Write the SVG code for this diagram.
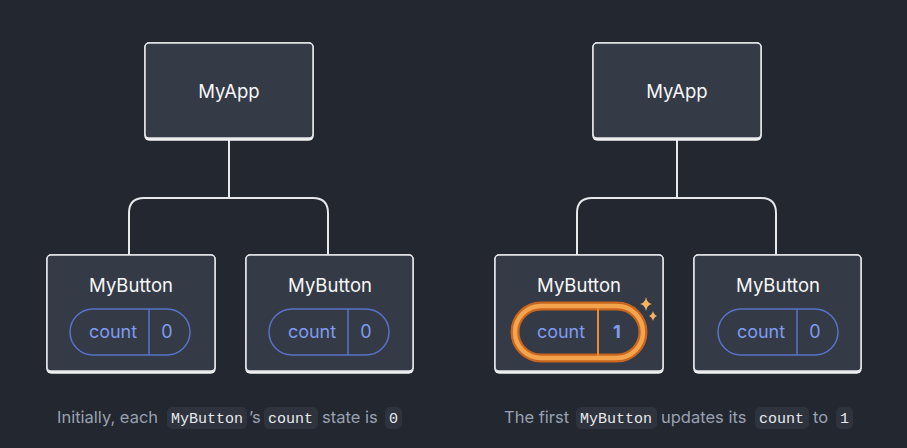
<svg xmlns="http://www.w3.org/2000/svg" width="907" height="448" viewBox="0 0 907 448">
<defs>
<style>
.node{fill:#343a46;stroke:#e6e8ec;stroke-width:1.5}
.shadow{fill:#f0f1f3}
.label{font-family:Inter,"Open Sans",sans-serif;font-size:18.5px;fill:#f6f7f9;text-anchor:middle}
.pill{fill:none;stroke:#5872c8;stroke-width:1.5}
.pilltxt{font-family:Inter,"Open Sans",sans-serif;font-size:18px;fill:#7f9cf0;text-anchor:middle}
.conn{fill:none;stroke:#e6e8ec;stroke-width:2}
.cap{font-family:Inter,"Open Sans",sans-serif;font-size:16.5px;fill:#99a1b3}
.code{font-family:"Liberation Mono","DejaVu Sans Mono",monospace;font-size:15px;fill:#e8eaee}
.codebg{fill:#2e333d}
</style>
</defs>
<rect width="907" height="448" fill="#23272f"/>
<g id="connectors">
<path class="conn" d="M229 139 V198 M129 255 V213 Q129 198 144 198 H313 Q328 198 328 213 V255"/>
<path class="conn" d="M677 139 V198 M577 255 V213 Q577 198 592 198 H761 Q776 198 776 213 V255"/>
</g>
<g id="myapp-left">
<rect class="shadow" x="144.25" y="42.25" width="169.5" height="98.5" rx="5"/>
<rect class="node" x="145" y="43" width="168" height="95" rx="4"/>
<text class="label" x="229" y="98">MyApp</text>
</g>
<g id="mybutton-left-1">
<rect class="shadow" x="46.25" y="254.25" width="169.5" height="119.5" rx="5"/>
<rect class="node" x="47" y="255" width="168" height="116" rx="4"/>
<text class="label" x="131" y="292">MyButton</text>
<rect class="pill" x="70" y="309" width="120" height="46" rx="23"/>
<line class="pill" x1="149" y1="309" x2="149" y2="355"/>
<text class="pilltxt" x="113" y="338">count</text>
<text class="pilltxt" x="167" y="338">0</text>
</g>
<g id="mybutton-left-2">
<rect class="shadow" x="245.25" y="254.25" width="168.5" height="119.5" rx="5"/>
<rect class="node" x="246" y="255" width="167" height="116" rx="4"/>
<text class="label" x="330" y="292">MyButton</text>
<rect class="pill" x="269" y="309" width="120" height="46" rx="23"/>
<line class="pill" x1="348" y1="309" x2="348" y2="355"/>
<text class="pilltxt" x="312" y="338">count</text>
<text class="pilltxt" x="366" y="338">0</text>
</g>
<g id="myapp-right">
<rect class="shadow" x="592.25" y="42.25" width="169.5" height="98.5" rx="5"/>
<rect class="node" x="593" y="43" width="168" height="95" rx="4"/>
<text class="label" x="677" y="98">MyApp</text>
</g>
<g id="mybutton-right-1">
<rect class="shadow" x="494.25" y="254.25" width="169.5" height="119.5" rx="5"/>
<rect class="node" x="495" y="255" width="168" height="116" rx="4"/>
<text class="label" x="579" y="292">MyButton</text>
<rect x="515" y="306" width="128" height="52" rx="26" fill="none" stroke="#c8661f" stroke-width="9"/>
<rect x="515" y="306" width="128" height="52" rx="26" fill="none" stroke="#f5a44e" stroke-width="4.5"/>
<line x1="598" y1="308" x2="598" y2="356" stroke="#e98a34" stroke-width="2"/>
<text class="pilltxt" x="561" y="338">count</text>
<text class="pilltxt" x="617" y="338" font-weight="bold">1</text>
<path d="M646 297 Q647 303 652 304 Q647 305 646 311 Q645 305 640 304 Q645 303 646 297 Z" fill="#f8b35e"/>
<path d="M653 311 Q654 315 657 316 Q654 317 653 321 Q652 317 649 316 Q652 315 653 311 Z" fill="#f8b35e"/>
</g>
<g id="mybutton-right-2">
<rect class="shadow" x="693.25" y="254.25" width="168.5" height="119.5" rx="5"/>
<rect class="node" x="694" y="255" width="167" height="116" rx="4"/>
<text class="label" x="778" y="292">MyButton</text>
<rect class="pill" x="718" y="309" width="120" height="46" rx="23"/>
<line class="pill" x1="797" y1="309" x2="797" y2="355"/>
<text class="pilltxt" x="761" y="338">count</text>
<text class="pilltxt" x="815" y="338">0</text>
</g>
<g id="caption-left">
<rect class="codebg" x="167" y="407" width="80" height="22" rx="5"/>
<rect class="codebg" x="264" y="407" width="54" height="22" rx="5"/>
<rect class="codebg" x="385" y="407" width="17" height="22" rx="5"/>
<text class="cap" x="57" y="423">Initially, each</text>
<text class="code" x="171" y="423">MyButton</text>
<text class="cap" x="249" y="423">’s</text>
<text class="code" x="268" y="423">count</text>
<text class="cap" x="322" y="423">state is</text>
<text class="code" x="389" y="423">0</text>
</g>
<g id="caption-right">
<rect class="codebg" x="576" y="407" width="81" height="22" rx="5"/>
<rect class="codebg" x="755" y="407" width="54" height="22" rx="5"/>
<rect class="codebg" x="836" y="407" width="17" height="22" rx="5"/>
<text class="cap" x="504" y="423">The first</text>
<text class="code" x="580" y="423">MyButton</text>
<text class="cap" x="661" y="423">updates its</text>
<text class="code" x="759" y="423">count</text>
<text class="cap" x="813" y="423">to</text>
<text class="code" x="840" y="423">1</text>
</g>
</svg>
